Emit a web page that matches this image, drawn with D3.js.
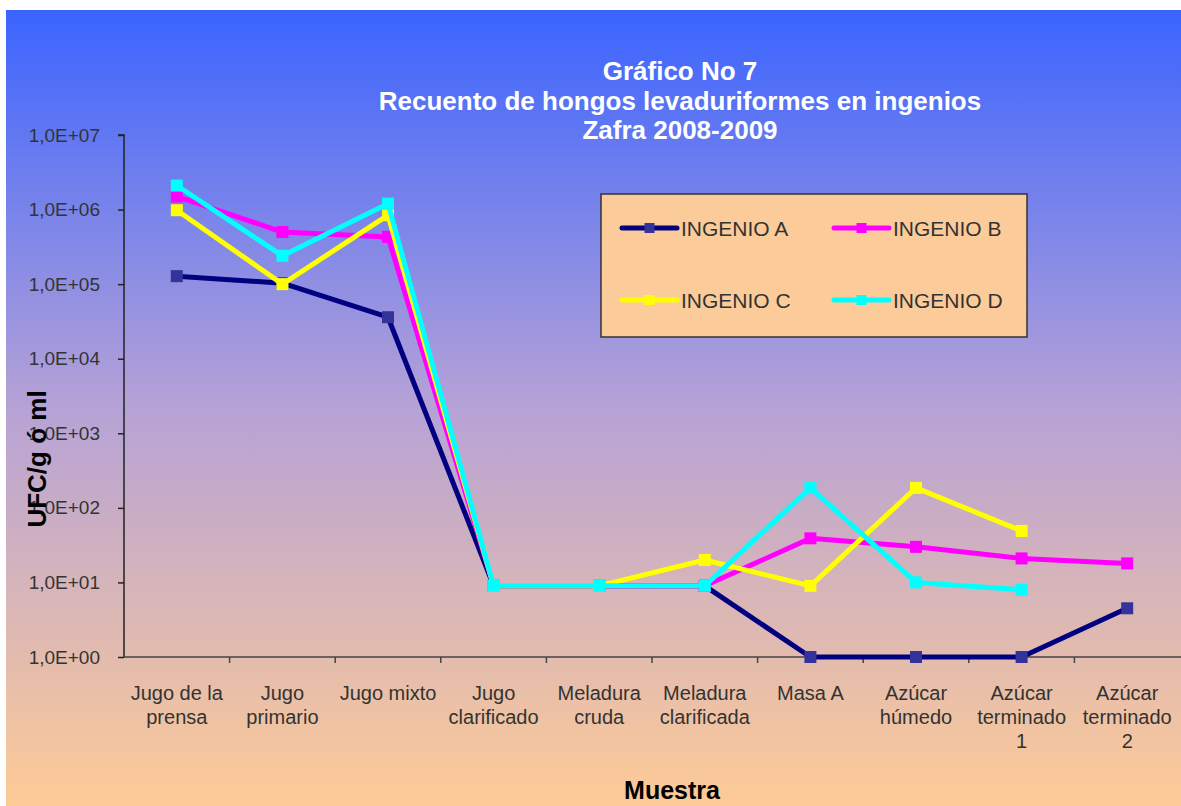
<!DOCTYPE html>
<html><head><meta charset="utf-8">
<script src="https://cdn.jsdelivr.net/npm/d3@7"></script>
<style>html,body{margin:0;padding:0;background:#fff;}svg{display:block;}</style>
</head><body>
<svg id="chart" width="1181" height="806"></svg>
<script>
const categories = [
  ["Jugo de la","prensa"],
  ["Jugo","primario"],
  ["Jugo mixto"],
  ["Jugo","clarificado"],
  ["Meladura","cruda"],
  ["Meladura","clarificada"],
  ["Masa A"],
  ["Azúcar","húmedo"],
  ["Azúcar","terminado","1"],
  ["Azúcar","terminado","2"]
];
const seriesNames = ["INGENIO A","INGENIO B","INGENIO C","INGENIO D"];
const ingenioA = [128000, 103000, 36000, 9, 9, 9, 1, 1, 1, 4.5];
const ingenioB = [1500000, 500000, 430000, 9, 9, 9, 39, 30, 21, 18];
const ingenioC = [980000, 100000, 840000, 9, 9, 20, 9, 185, 49, null];
const ingenioD = [2100000, 240000, 1200000, 9, 9, 9, 185, 10, 8, null];
const yTickValues = [1, 10, 100, 1000, 10000, 100000, 1000000, 10000000];
const yTickLabels = ["1,0E+00","1,0E+01","1,0E+02","1,0E+03","1,0E+04","1,0E+05","1,0E+06","1,0E+07"];
const titleLines = ["Gráfico No 7","Recuento de hongos levaduriformes en ingenios","Zafra 2008-2009"];
const xTitle = "Muestra";
const yTitle = "UFC/g ó ml";

const lineColors = ["#000080","#ff00ff","#ffff00","#00ffff"];
const markerColors = ["#333399","#ff00ff","#ffff00","#00ffff"];
const allSeries = [ingenioA, ingenioB, ingenioC, ingenioD];

const svg = d3.select("#chart");
const font = "'Liberation Sans', Arial, sans-serif";

// background gradient
const defs = svg.append("defs");
const grad = defs.append("linearGradient").attr("id","bg").attr("x1",0).attr("y1",0).attr("x2",0).attr("y2",1);
grad.append("stop").attr("offset","0%").attr("stop-color","#3a64ff");
grad.append("stop").attr("offset","50%").attr("stop-color","#b6a2d6");
grad.append("stop").attr("offset","100%").attr("stop-color","#fecb96");
svg.append("rect").attr("x",6).attr("y",10).attr("width",1175).attr("height",796).attr("fill","url(#bg)");

const plot = {left:124, right:1180, top:135, bottom:657};
const x = d3.scaleBand().domain(d3.range(categories.length)).range([plot.left, plot.right]);
const y = d3.scaleLog().domain([1, 1e7]).range([plot.bottom, plot.top]);

// title
svg.append("g").selectAll("text").data(titleLines).join("text")
  .attr("x",680).attr("y",(d,i)=>80+i*29.5)
  .attr("text-anchor","middle").attr("fill","#fff")
  .attr("font-family",font).attr("font-weight","bold").attr("font-size",26)
  .text(d=>d);

// y axis
const yAxis = d3.axisLeft(y).tickValues(yTickValues).tickFormat((d,i)=>yTickLabels[i]).tickSize(6).tickPadding(18);
const gy = svg.append("g").attr("transform",`translate(${plot.left},0)`).call(yAxis);
gy.select(".domain").attr("stroke","#222").attr("stroke-width",1.5).attr("d",`M-6,${plot.top}H0V${plot.bottom}`);
gy.selectAll(".tick line").attr("stroke","#222").attr("stroke-width",1.5);
gy.selectAll(".tick text").attr("fill","#333").attr("font-family",font).attr("font-size",19);

// x axis
const xAxis = d3.axisBottom(x).tickFormat("").tickSize(0);
const gx = svg.append("g").attr("transform",`translate(0,${plot.bottom})`).call(xAxis);
gx.select(".domain").attr("stroke","#444").attr("stroke-width",1.5).attr("d",`M${plot.left},0H${plot.right+1}`);
gx.selectAll(".tick").remove();
const boundaries = d3.range(1, categories.length).map(i=>x(i));
gx.selectAll("line.sep").data(boundaries).join("line").attr("class","sep")
  .attr("x1",d=>d).attr("x2",d=>d).attr("y1",0).attr("y2",6)
  .attr("stroke","#444").attr("stroke-width",1.5);

// x labels
const xl = svg.append("g").selectAll("text").data(categories).join("text")
  .attr("text-anchor","middle").attr("fill","#333")
  .attr("font-family",font).attr("font-size",20);
xl.each(function(lines,i){
  d3.select(this).selectAll("tspan").data(lines).join("tspan")
    .attr("x", x(i)+x.bandwidth()/2).attr("y",(d,j)=>700+j*24).text(d=>d);
});

// axis titles
svg.append("text").attr("x",672).attr("y",799).attr("text-anchor","middle")
  .attr("font-family",font).attr("font-weight","bold").attr("font-size",25).attr("fill","#000").text(xTitle);
svg.append("text").attr("transform","translate(46,459) rotate(-90)").attr("text-anchor","middle")
  .attr("font-family",font).attr("font-weight","bold").attr("font-size",26).attr("fill","#000").text(yTitle);

// series
const line = d3.line().defined(d=>d.v!=null).x(d=>x(d.i)+x.bandwidth()/2).y(d=>y(d.v));
const ms = 12;
allSeries.forEach((vals,si)=>{
  const pts = vals.map((v,i)=>({i,v}));
  const g = svg.append("g");
  g.append("path").datum(pts).attr("d",line).attr("fill","none")
    .attr("stroke",lineColors[si]).attr("stroke-width",5).attr("stroke-linejoin","round");
  g.selectAll("rect").data(pts.filter(d=>d.v!=null)).join("rect")
    .attr("x",d=>x(d.i)+x.bandwidth()/2-ms/2).attr("y",d=>y(d.v)-ms/2)
    .attr("width",ms).attr("height",ms).attr("fill",markerColors[si]);
});

// legend
const lg = svg.append("g");
lg.append("rect").attr("x",601).attr("y",194).attr("width",426).attr("height",143)
  .attr("fill","#fccb9a").attr("stroke","#333").attr("stroke-width",1.5);
const legPos = [[622,228],[834,228],[622,300],[834,300]];
seriesNames.forEach((name,si)=>{
  const [lx,ly] = legPos[si];
  lg.append("line").attr("x1",lx).attr("x2",lx+55).attr("y1",ly).attr("y2",ly)
    .attr("stroke",lineColors[si]).attr("stroke-width",5).attr("stroke-linecap","round");
  lg.append("rect").attr("x",lx+22.5).attr("y",ly-5).attr("width",10).attr("height",10).attr("fill",markerColors[si]);
  lg.append("text").attr("x",lx+59).attr("y",ly+8).attr("fill","#333")
    .attr("font-family",font).attr("font-size",21).text(name);
});
</script>
</body></html>
